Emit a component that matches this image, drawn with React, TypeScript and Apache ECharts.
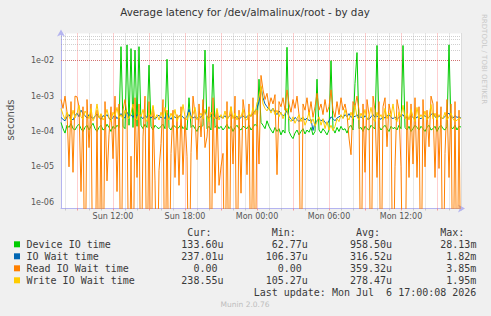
import { useEffect, useRef } from "react";
import * as echarts from "echarts";

// Time axis: 10-minute samples from Sun 07:40 to Mon 17:00 (minutes from Sun 00:00)
const START_MINUTE = 460;
const STEP_MINUTES = 10;
const SAMPLE_COUNT = 201;
const DAY_NAMES = ["Sun", "Mon"];

const xTickLabels = ["Sun 12:00", "Sun 18:00", "Mon 00:00", "Mon 06:00", "Mon 12:00"];
const yDecades = [-6, -5, -4, -3, -2];

const seriesNames = ["Device IO time", "IO Wait time", "Read IO Wait time", "Write IO Wait time"];
const seriesColors = ["#00cc00", "#0066b3", "#ff8000", "#ffcc00"];

// Latencies in microseconds
const deviceIoTime = [
  180, 120, 90, 150, 130, 170, 120, 110, 140, 160,
  120, 100, 130, 150, 110, 140, 170, 120, 100, 130,
  150, 110, 120, 160, 130, 100, 140, 120, 150, 130,
  25000, 140, 120, 28000, 150, 22000, 130, 20000, 140, 25000,
  150, 120, 160, 130, 7500, 140, 110, 150, 130, 120,
  140, 160, 120, 11000, 130, 110, 150, 140, 120, 130,
  160, 120, 140, 110, 900, 130, 150, 120, 100, 140,
  130, 150, 20000, 120, 140, 110, 8000, 130, 150, 120,
  140, 110, 130, 160, 120, 140, 100, 130, 150, 120,
  110, 140, 130, 120, 150, 110, 130, 160, 140, 3000,
  180, 150, 120, 200, 140, 110, 90, 130, 100, 120,
  80, 110, 90, 24000, 100, 75, 62.77, 90, 110, 80,
  100, 120, 85, 110, 95, 130, 80, 100, 3000, 110,
  90, 120, 100, 80, 110, 10000, 120, 90, 130, 100,
  140, 110, 120, 90, 130, 150, 110, 2300, 17000, 120,
  130, 100, 140, 120, 110, 150, 130, 120, 27000, 140,
  110, 130, 150, 120, 100, 140, 120, 130, 110, 150,
  120, 27000, 130, 110, 140, 100, 120, 150, 130, 110,
  140, 120, 100, 130, 150, 110, 120, 140, 100, 130,
  150, 120, 110, 140, 28130, 130, 120, 150, 110, 140,
  133.6,
];

const ioWaitTime = [
  250, 220, 200, 260, 300, 240, 210, 280, 330, 260,
  400, 320, 280, 240, 300, 260, 230, 270, 310, 250,
  220, 280, 260, 300, 240, 210, 250, 290, 230, 270,
  320, 260, 240, 350, 280, 300, 250, 320, 270, 340,
  260, 230, 280, 250, 310, 240, 270, 220, 260, 290,
  240, 270, 230, 330, 260, 220, 280, 250, 240, 270,
  300, 250, 230, 270, 420, 280, 240, 260, 230, 270,
  250, 300, 380, 260, 240, 280, 320, 250, 230, 270,
  260, 240, 280, 230, 260, 300, 250, 240, 270, 220,
  250, 280, 240, 260, 300, 270, 320, 380, 450, 700,
  1820, 900, 600, 500, 420, 380, 450, 350, 300, 380,
  320, 280, 300, 400, 260, 230, 200, 250, 220, 190,
  230, 250, 210, 240, 200, 220, 106.37, 180, 200, 230,
  200, 220, 180, 160, 200, 260, 230, 200, 240, 260,
  280, 240, 300, 260, 320, 250, 280, 260, 300, 240,
  260, 230, 280, 240, 220, 260, 300, 250, 280, 240,
  220, 260, 240, 280, 300, 250, 230, 260, 220, 250,
  270, 300, 240, 260, 230, 280, 250, 220, 260, 240,
  230, 260, 280, 240, 250, 300, 330, 260, 240, 280,
  250, 230, 270, 300, 330, 260, 240, 280, 250, 260,
  237.01,
];

const readIoWaitTime = [
  800, 450, 1000, 350, 10, 700, 7, 1000, 950, 500,
  2, 500, 0, 800, 35, 600, 0, 0, 400, 0,
  300, 0, 700, 4, 80, 500, 17, 1000, 2, 600,
  0, 400, 800, 300, 0, 20, 0, 900, 5, 600,
  0, 70, 1000, 0, 700, 0, 500, 4, 0, 8,
  45, 800, 0, 400, 0, 24, 400, 5, 300, 3,
  500, 6, 250, 20, 0, 25, 1000, 300, 16, 600,
  70, 800, 35, 70, 500, 0, 900, 1.8, 400, 3,
  10, 24, 0, 700, 0, 500, 12, 1000, 0, 400,
  1.8, 800, 300, 6, 600, 0, 900, 0, 400, 12,
  3850, 1500, 800, 1200, 500, 900, 600, 1100, 6, 700,
  500, 900, 400, 1500, 600, 350, 800, 450, 1000, 300,
  0, 600, 400, 900, 300, 700, 250, 500, 1200, 400,
  600, 300, 800, 350, 500, 1500, 400, 250, 700, 300,
  900, 400, 600, 300, 65, 22, 700, 500, 1000, 400,
  0, 600, 7, 800, 300, 0, 1000, 400, 5, 700,
  0, 500, 900, 37, 600, 300, 0, 10, 800, 400,
  10, 0, 0, 700, 5, 600, 12, 900, 5, 500,
  0, 800, 10, 400, 37, 1000, 600, 5, 700, 9,
  500, 0, 24, 800, 5, 600, 0, 700, 0, 400,
  0,
];

const writeIoWaitTime = [
  450, 300, 220, 350, 260, 200, 400, 240, 320, 550,
  260, 220, 380, 300, 230, 450, 200, 260, 600, 240,
  320, 210, 260, 420, 230, 190, 350, 280, 480, 240,
  300, 220, 400, 260, 230, 330, 600, 250, 210, 350,
  260, 420, 230, 190, 330, 260, 550, 230, 300, 210,
  350, 240, 480, 260, 210, 330, 230, 420, 190, 280,
  230, 580, 260, 210, 350, 230, 300, 480, 210, 260,
  330, 230, 420, 260, 190, 350, 280, 230, 450, 210,
  300, 230, 380, 210, 260, 500, 230, 330, 210, 300,
  260, 420, 230, 210, 350, 260, 480, 300, 650, 900,
  1950, 600, 450, 380, 500, 330, 450, 300, 400, 260,
  350, 230, 330, 450, 230, 190, 260, 170, 230, 300,
  190, 260, 150, 210, 350, 170, 230, 140, 190, 260,
  150, 230, 120, 190, 110, 150, 105.27, 140, 230, 190,
  300, 230, 420, 260, 210, 350, 230, 550, 260, 210,
  330, 230, 420, 210, 260, 480, 230, 190, 350, 240,
  300, 210, 450, 230, 330, 260, 600, 230, 190, 350,
  260, 550, 230, 330, 210, 420, 260, 190, 480, 230,
  300, 230, 380, 210, 260, 580, 230, 330, 210, 300,
  260, 230, 350, 210, 260, 330, 230, 190, 210, 230,
  238.55,
];

const seriesValues = [deviceIoTime, ioWaitTime, readIoWaitTime, writeIoWaitTime];

// Legend statistics
const legendHeaders = ["Cur:", "Min:", "Avg:", "Max:"];
const legendCur = ["133.60u", "237.01u", "0.00", "238.55u"];
const legendMin = ["62.77u", "106.37u", "0.00", "105.27u"];
const legendAvg = ["958.50u", "316.52u", "359.32u", "278.47u"];
const legendMax = ["28.13m", "1.82m", "3.85m", "1.95m"];
const lastUpdate = "Last update: Mon Jul\u00a0 6 17:00:08 2026";

// Vertical range of the log axis (seconds)
const Y_MIN = Math.pow(10, -6.178);
const Y_MAX = Math.pow(10, -1.23);
// Zero cannot sit on a log scale: pin it well under the floor so the line drops off the plot
const ZERO_FLOOR = 1e-9;

const AXIS_COLOR = "#b4b4f0";
const MAJOR_GRID = "rgba(255, 80, 80, 0.55)";
const MINOR_GRID = "rgba(150, 150, 150, 0.45)";
const TEXT_COLOR = "#3a3a3a";
const SANS = "DejaVu Sans";
const MONO = "DejaVu Sans Mono";
const CH = 6.02; // monospace advance at 10px

function minuteOf(i: number) {
  return START_MINUTE + i * STEP_MINUTES;
}

const timeCategories = Array.from({ length: SAMPLE_COUNT }, (_, i) => {
  const m = minuteOf(i);
  const day = DAY_NAMES[Math.floor(m / 1440)];
  const hh = String(Math.floor((m % 1440) / 60)).padStart(2, "0");
  const mm = String(m % 60).padStart(2, "0");
  return `${day} ${hh}:${mm}`;
});

const isMajorHour = (i: number) => minuteOf(i) % 180 === 0;
const isMinorHour = (i: number) => minuteOf(i) % 60 === 0 && minuteOf(i) % 180 !== 0;

function buildHorizontalGrid() {
  const lines: any[] = [];
  for (let e = -7; e <= -1; e++) {
    for (let k = 1; k <= 9; k++) {
      const v = k * Math.pow(10, e);
      if (v <= Y_MIN || v >= Y_MAX) continue;
      lines.push({
        yAxis: v,
        lineStyle: { color: k === 1 ? MAJOR_GRID : MINOR_GRID, type: [1, 1], width: 1 },
      });
    }
  }
  return lines;
}

function buildLegendGraphics() {
  const items: any[] = [];
  const colRight = [223.5, 307.8, 392.1, 476.4];
  const headerY = 232.3;
  const font = `10px '${MONO}'`;
  legendHeaders.forEach((h, k) => {
    items.push({
      type: "text",
      x: colRight[k] - 2 * CH,
      y: headerY,
      style: { text: h, fill: TEXT_COLOR, font, align: "right", verticalAlign: "middle" },
    });
  });
  const columns = [legendCur, legendMin, legendAvg, legendMax];
  seriesNames.forEach((name, r) => {
    const y = 244.3 + r * 12;
    items.push({
      type: "rect",
      shape: { x: 14, y: y - 3, width: 6, height: 6 },
      style: { fill: seriesColors[r] },
    });
    items.push({
      type: "text",
      x: 26.5,
      y,
      style: { text: name, fill: TEXT_COLOR, font, align: "left", verticalAlign: "middle" },
    });
    columns.forEach((col, k) => {
      const s = col[r];
      const hasUnit = /[a-z]$/i.test(s);
      items.push({
        type: "text",
        x: colRight[k] - (hasUnit ? 0 : CH),
        y,
        style: { text: s, fill: TEXT_COLOR, font, align: "right", verticalAlign: "middle" },
      });
    });
  });
  items.push({
    type: "text",
    x: colRight[3],
    y: 292.6,
    style: { text: lastUpdate, fill: TEXT_COLOR, font, align: "right", verticalAlign: "middle" },
  });
  return items;
}

export default function App() {
  const ref = useRef<HTMLDivElement>(null);

  useEffect(() => {
    if (!ref.current) return;
    const chart = echarts.init(ref.current, undefined, { renderer: "svg" });

    const lineSeries = seriesValues.map((vals, s) => ({
      name: seriesNames[s],
      type: "line",
      xAxisIndex: 0,
      yAxisIndex: 0,
      data: vals.map((v) => (v > 0 ? v / 1e6 : ZERO_FLOOR)),
      showSymbol: false,
      symbol: "none",
      clip: true,
      silent: true,
      lineStyle: { color: seriesColors[s], width: 1 },
      itemStyle: { color: seriesColors[s] },
      z: 2 + s,
    }));

    const option: any = {
      animation: false,
      backgroundColor: "#f0f0f0",
      grid: {
        left: 61,
        top: 33.5,
        width: 400,
        height: 175,
        show: true,
        backgroundColor: "#ffffff",
        borderWidth: 0,
      },
      xAxis: [
        {
          type: "category",
          data: timeCategories,
          boundaryGap: false,
          axisLine: {
            show: true,
            onZero: false,
            lineStyle: { color: AXIS_COLOR, width: 1 },
            symbol: ["none", "arrow"],
            symbolSize: [6, 7],
            symbolOffset: [0, 4],
          },
          axisTick: {
            show: true,
            interval: (i: number) => isMajorHour(i),
            length: 2,
            lineStyle: { color: MAJOR_GRID },
          },
          axisLabel: {
            interval: (_i: number, v: string) => xTickLabels.includes(v),
            color: "#555",
            fontFamily: SANS,
            fontSize: 8,
            margin: 4,
          },
          splitLine: {
            show: true,
            interval: (i: number) => isMajorHour(i),
            lineStyle: { color: MAJOR_GRID, type: [1, 1], width: 1 },
          },
        },
        {
          type: "category",
          data: timeCategories,
          boundaryGap: false,
          position: "bottom",
          axisLine: { show: false },
          axisTick: {
            show: true,
            interval: (i: number) => isMinorHour(i),
            length: 2,
            lineStyle: { color: MINOR_GRID },
          },
          axisLabel: { show: false },
          splitLine: {
            show: true,
            interval: (i: number) => isMinorHour(i),
            lineStyle: { color: MINOR_GRID, type: [1, 1], width: 1 },
          },
        },
      ],
      yAxis: {
        type: "log",
        logBase: 10,
        min: Y_MIN,
        max: Y_MAX,
        axisLine: {
          show: true,
          lineStyle: { color: AXIS_COLOR, width: 1 },
          symbol: ["none", "arrow"],
          symbolSize: [6, 7],
          symbolOffset: [0, 4],
        },
        axisTick: { show: false },
        splitLine: { show: false },
        axisLabel: {
          color: "#555",
          fontFamily: SANS,
          fontSize: 8,
          margin: 7,
          formatter: (v: number) => {
            const e = Math.log10(v);
            const r = Math.round(e);
            if (Math.abs(e - r) > 1e-6 || !yDecades.includes(r)) return "";
            return `1e-${String(-r).padStart(2, "0")}`;
          },
        },
      },
      series: [
        {
          name: "grid",
          type: "line",
          data: [],
          silent: true,
          z: 1,
          markLine: {
            silent: true,
            symbol: "none",
            z: 1,
            label: { show: false },
            emphasis: { disabled: true },
            animation: false,
            data: buildHorizontalGrid(),
          },
        },
        ...lineSeries,
      ],
      graphic: [
        {
          type: "text",
          x: 245,
          y: 12,
          style: {
            text: "Average latency for /dev/almalinux/root - by day",
            fill: "#333",
            font: `10.3px '${SANS}'`,
            align: "center",
            verticalAlign: "middle",
          },
        },
        {
          type: "text",
          x: 10.5,
          y: 120,
          rotation: Math.PI / 2,
          style: {
            text: "seconds",
            fill: "#555",
            font: `10px '${SANS}'`,
            align: "center",
            verticalAlign: "middle",
          },
        },
        {
          type: "text",
          x: 484,
          y: 14,
          rotation: -Math.PI / 2,
          style: {
            text: "RRDTOOL / TOBI OETIKER",
            fill: "#c8c8c8",
            font: `7px '${SANS}'`,
            align: "left",
            verticalAlign: "middle",
          },
        },
        {
          type: "text",
          x: 245,
          y: 304.5,
          style: {
            text: "Munin 2.0.76",
            fill: "#bdbdbd",
            font: `7.5px '${SANS}'`,
            align: "center",
            verticalAlign: "middle",
          },
        },
        ...buildLegendGraphics(),
      ],
    };

    chart.setOption(option);
    return () => chart.dispose();
  }, []);

  return (
    <div
      ref={ref}
      style={{ position: "fixed", left: 0, top: 0, width: 491, height: 316 }}
    />
  );
}
